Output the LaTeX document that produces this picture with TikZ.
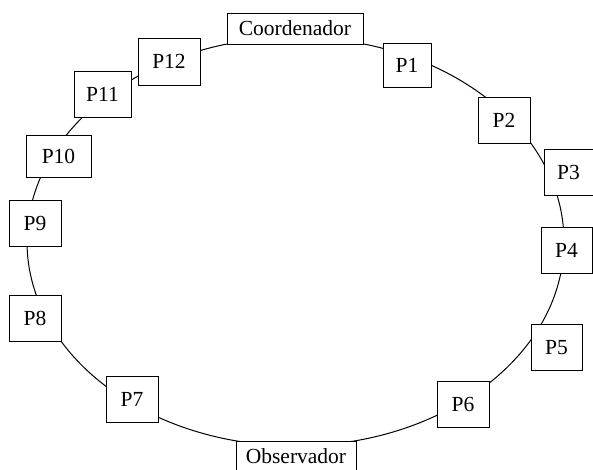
\documentclass[tikz,border=0pt]{standalone}
\usepackage{fontspec}
\setmainfont{Liberation Serif}
\begin{document}
\begin{tikzpicture}[x=1pt,y=-1pt,
  ring/.style={line width=1pt},
  pbox/.style={draw, fill=white, line width=1pt, inner sep=0pt,
    font=\fontsize{21.5}{25}\selectfont, minimum height=46pt, minimum width=52pt},
  wbox/.style={pbox, minimum height=31pt}]
\useasboundingbox (0,0) rectangle (593,469);
\clip (0,0) rectangle (593,469);
\draw[ring] (295.5,241.6) ellipse [x radius=268.5pt, y radius=204.3pt];
\node[wbox, minimum width=136pt] (c) at (295,28.5) {Coordenador};
\node[pbox, minimum width=48pt, minimum height=44pt] (p1) at (407,65) {P1};
\node[pbox] (p2) at (504,120) {P2};
\node[pbox, minimum width=49pt] (p3) at (568.5,172.5) {P3};
\node[pbox, minimum width=51pt] (p4) at (566.5,250) {P4};
\node[pbox, minimum width=51pt] (p5) at (556.5,347.5) {P5};
\node[pbox] (p6) at (463,404.5) {P6};
\node[wbox, minimum width=120pt] (o) at (296,456.5) {Observador};
\node[pbox] (p7) at (132,399.5) {P7};
\node[pbox] (p8) at (35,318.5) {P8};
\node[pbox] (p9) at (35,223) {P9};
\node[pbox, minimum width=65pt, minimum height=42pt] (p10) at (58.5,156) {P10};
\node[pbox, minimum width=57pt] (p11) at (102.5,94) {P11};
\node[pbox, minimum width=62pt, minimum height=47pt] (p12) at (169,61.5) {P12};
\end{tikzpicture}
\end{document}
